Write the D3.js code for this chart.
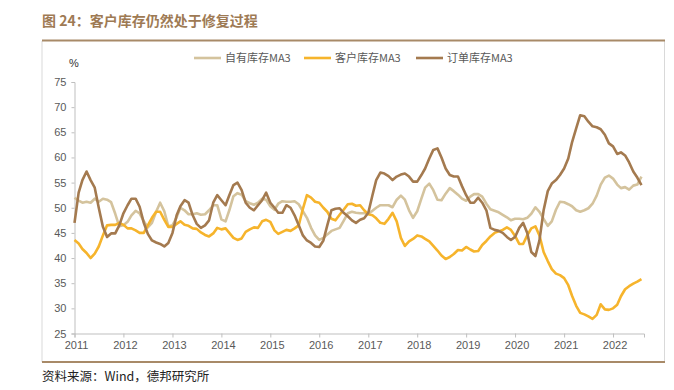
<!DOCTYPE html>
<html><head><meta charset="utf-8">
<script src="https://cdn.jsdelivr.net/npm/d3@7/dist/d3.min.js"></script>
<style>
html,body{margin:0;padding:0;background:#fff;}
svg{display:block;}
</style></head>
<body>
<svg id="chart" width="674" height="390"></svg>
<script>
// ---- data ----
const startMonth = "2011-01";
const seriesNames = ["自有库存MA3", "客户库存MA3", "订单库存MA3"];
const yearLabels = ["2011","2012","2013","2014","2015","2016","2017","2018","2019","2020","2021","2022"];
const yTicks = [25,30,35,40,45,50,55,60,65,70,75];

const ownInventory = [52, 51.4, 51, 51.2, 51, 51.8, 51.2, 51.8, 51.6, 51.1, 48.8, 46.3,
 46.5, 47.2, 48.5, 49.4, 48.9, 47.3, 46.1, 47, 49.2, 51, 49.3, 46.3,
 46.5, 48.1, 50, 49.5, 48.7, 48.7, 48.9, 48.6, 48.7, 49.5, 50.5, 50.5,
 47.7, 47.3, 49.5, 52.3, 52.9, 52.6, 51.3, 50.9, 50.6, 51, 51.8, 51.6,
 50.3, 49.6, 50.8, 51.3, 51.2, 51.2, 51.3, 50.7, 49.3, 48, 46, 44.5,
 43.6, 44, 44.7, 45.4, 45.7, 46, 47.4, 48.9, 49.2, 49, 48.9, 48.9,
 48.9, 49.4, 50, 50.5, 50.5, 50.5, 50.1, 51.6, 52.4, 51.6, 49.5, 48,
 49.3, 51.8, 54, 54.8, 53.5, 51.6, 51.5, 52.8, 53.9, 53.3, 52.6, 51.8,
 51.4, 52.2, 52.7, 52.7, 52.2, 50.8, 49.7, 49.4, 49.1, 48.6, 48.1, 47.5,
 47.8, 47.8, 47.7, 48, 48.8, 50.1, 49.2, 47.8, 46.4, 47.3, 49.6, 51.2,
 51.1, 50.7, 50.3, 49.5, 49.2, 49.5, 49.9, 50.8, 52.4, 54.6, 56, 56.4,
 55.8, 54.6, 53.9, 54.1, 53.6, 54.4, 54.6, 56.2];

const customerInventory = [43.6, 42.9, 41.8, 41, 40, 40.9, 42.3, 44.5, 46.5, 46.6, 46.6, 47,
 46.6, 45.9, 45.9, 45.5, 45, 45, 46.5, 48, 49.2, 49.2, 47.6, 46.2,
 46.2, 46.8, 47.3, 46.6, 46.4, 45.9, 45.8, 45.1, 44.6, 44.3, 44.9, 46,
 45.7, 45.9, 45, 44, 43.6, 43.9, 45.2, 45.7, 46.1, 46, 47.3, 47.6,
 47.2, 45.5, 44.8, 45.2, 45.6, 45.4, 45.9, 46.5, 49.8, 52.5, 52, 51.2,
 51, 50, 49.2, 47.8, 47.5, 48.6, 49.6, 50.7, 50.8, 50.4, 50.5, 49.5,
 48.7, 48.5, 47.9, 47, 46.8, 47.8, 49, 47.3, 44, 42.4, 43.3, 43.8,
 44.5, 44.3, 43.8, 43.3, 42.4, 41.5, 40.5, 39.8, 40.2, 40.8, 41.6, 41.5,
 42.2, 41.7, 41.3, 41.4, 42.6, 43.4, 44.3, 45, 45.3, 45.6, 46.1, 45.6,
 44.4, 42.8, 42.8, 44.5, 45.9, 46.3, 44.5, 41.2, 39.4, 37.8, 36.9, 36.6,
 36, 34.6, 32.5, 30.5, 29.1, 28.8, 28.4, 27.9, 28.7, 30.8, 29.8, 29.7,
 30, 30.7, 32.4, 33.8, 34.4, 34.9, 35.3, 35.8];

const orderInventory = [47, 53, 55.5, 57.2, 55.5, 54, 50, 46.2, 44.2, 44.9, 44.9, 46.5,
 48.9, 50.5, 51.8, 51.8, 50.2, 47, 44.8, 43.5, 43.1, 42.8, 42.3, 43,
 45, 48.5, 50.3, 51.5, 51, 48.5, 46.8, 46, 46.5, 47.5, 51, 52.5,
 51.5, 50.5, 52.5, 54.5, 55, 53.5, 51, 50, 49.5, 50.5, 51.5, 53,
 51, 50, 49, 49, 50.5, 50, 48.5, 46.5, 44.5, 43.5, 43, 42.3,
 42.2, 43.5, 46.5, 49.5, 49.8, 49.9, 49, 48.3, 47.5, 47, 47.6, 47.9,
 49, 52.5, 55.5, 57, 56.8, 56.3, 55.5, 56.2, 56.6, 56.8, 56.2, 55.2,
 55.2, 56.5, 57.8, 59.8, 61.5, 61.8, 60, 57.8, 56.5, 56.2, 56.2, 54.3,
 52.5, 51, 51, 52, 51, 49.5, 46, 45.6, 45.4, 45, 44.2, 43.6,
 44.2, 46, 47, 45, 41.2, 40.4, 43.5, 49.5, 53.3, 54.8, 55.5, 56.5,
 57.8, 59.8, 63, 65.8, 68.4, 68.2, 67.1, 66.2, 66, 65.6, 64.5, 62.8,
 62.2, 60.7, 61, 60.4, 59, 57.2, 56, 54.5];

const colors = ["#D4C39D", "#F6B42C", "#A47A4F"];

// ---- chart ----
const svg = d3.select("#chart");
const parseM = d3.timeParse("%Y-%m");
const t0 = parseM(startMonth);
const dates = ownInventory.map((_, i) => d3.timeMonth.offset(t0, i));

const x = d3.scaleTime()
  .domain([t0, new Date(2022, 7, 20)])
  .range([74.5, 644]);
const y = d3.scaleLinear().domain([25, 75]).range([333.5, 82]);

const font = "'Liberation Sans', Arial, sans-serif";
const cjk = "'Noto Sans CJK SC', 'Liberation Sans', sans-serif";

// frame
svg.append("line").attr("x1", 42).attr("x2", 42).attr("y1", 41).attr("y2", 362)
  .attr("stroke", "#d9d9d9").attr("stroke-width", 1);
svg.append("line").attr("x1", 664.5).attr("x2", 664.5).attr("y1", 41).attr("y2", 362)
  .attr("stroke", "#d9d9d9").attr("stroke-width", 1);

// title
svg.append("text").attr("x", 42).attr("y", 26)
  .attr("font-family", cjk).attr("font-weight", 700).attr("font-size", 14)
  .attr("fill", "#9E7A54").text("图 24：客户库存仍然处于修复过程");
svg.append("line").attr("x1", 42).attr("x2", 665).attr("y1", 40.5).attr("y2", 40.5)
  .attr("stroke", "#A88A68").attr("stroke-width", 2);

// bottom rule
svg.append("line").attr("x1", 42).attr("x2", 665).attr("y1", 362).attr("y2", 362)
  .attr("stroke", "#A88A68").attr("stroke-width", 2);

// footer
svg.append("text").attr("x", 42).attr("y", 381)
  .attr("font-family", cjk).attr("font-size", 12.5)
  .attr("fill", "#222").text("资料来源：Wind，德邦研究所");

// axes
const yAxis = svg.append("g").attr("transform", "translate(74.5,0)")
  .call(d3.axisLeft(y).tickValues(yTicks).tickSize(3).tickPadding(5));
const xAxis = svg.append("g").attr("transform", "translate(0,333.5)")
  .call(d3.axisBottom(x)
    .tickValues(yearLabels.map(s => parseM(s + "-01")))
    .tickFormat((d, i) => yearLabels[i])
    .tickSize(4).tickPadding(4));
[yAxis, xAxis].forEach(g => {
  g.select(".domain").attr("stroke", "#BFBFBF");
  g.selectAll(".tick line").attr("stroke", "#BFBFBF");
  g.selectAll(".tick text").attr("fill", "#595959")
    .attr("font-family", font).attr("font-size", 11);
});
xAxis.selectAll(".tick text").attr("dx", 1.5);

svg.append("text").attr("x", 74).attr("y", 67).attr("text-anchor", "middle")
  .attr("font-family", font).attr("font-size", 11).attr("fill", "#333").text("%");

// lines
const seriesData = [ownInventory, customerInventory, orderInventory];
const line = d3.line().x((d, i) => x(dates[i])).y(d => y(d));
seriesData.forEach((s, k) => {
  svg.append("path").datum(s).attr("d", line)
    .attr("fill", "none").attr("stroke", colors[k])
    .attr("stroke-width", 2.6).attr("stroke-linejoin", "round");
});

// legend
const legendX = [194, 304, 416];
seriesNames.forEach((name, k) => {
  const g = svg.append("g").attr("transform", `translate(${legendX[k]},58)`);
  g.append("line").attr("x1", 0).attr("x2", 27).attr("y1", 0).attr("y2", 0)
    .attr("stroke", colors[k]).attr("stroke-width", 2.6);
  g.append("text").attr("x", 31).attr("y", 4)
    .attr("font-family", cjk).attr("font-size", 11).attr("fill", "#595959").text(name);
});
</script>
</body></html>
